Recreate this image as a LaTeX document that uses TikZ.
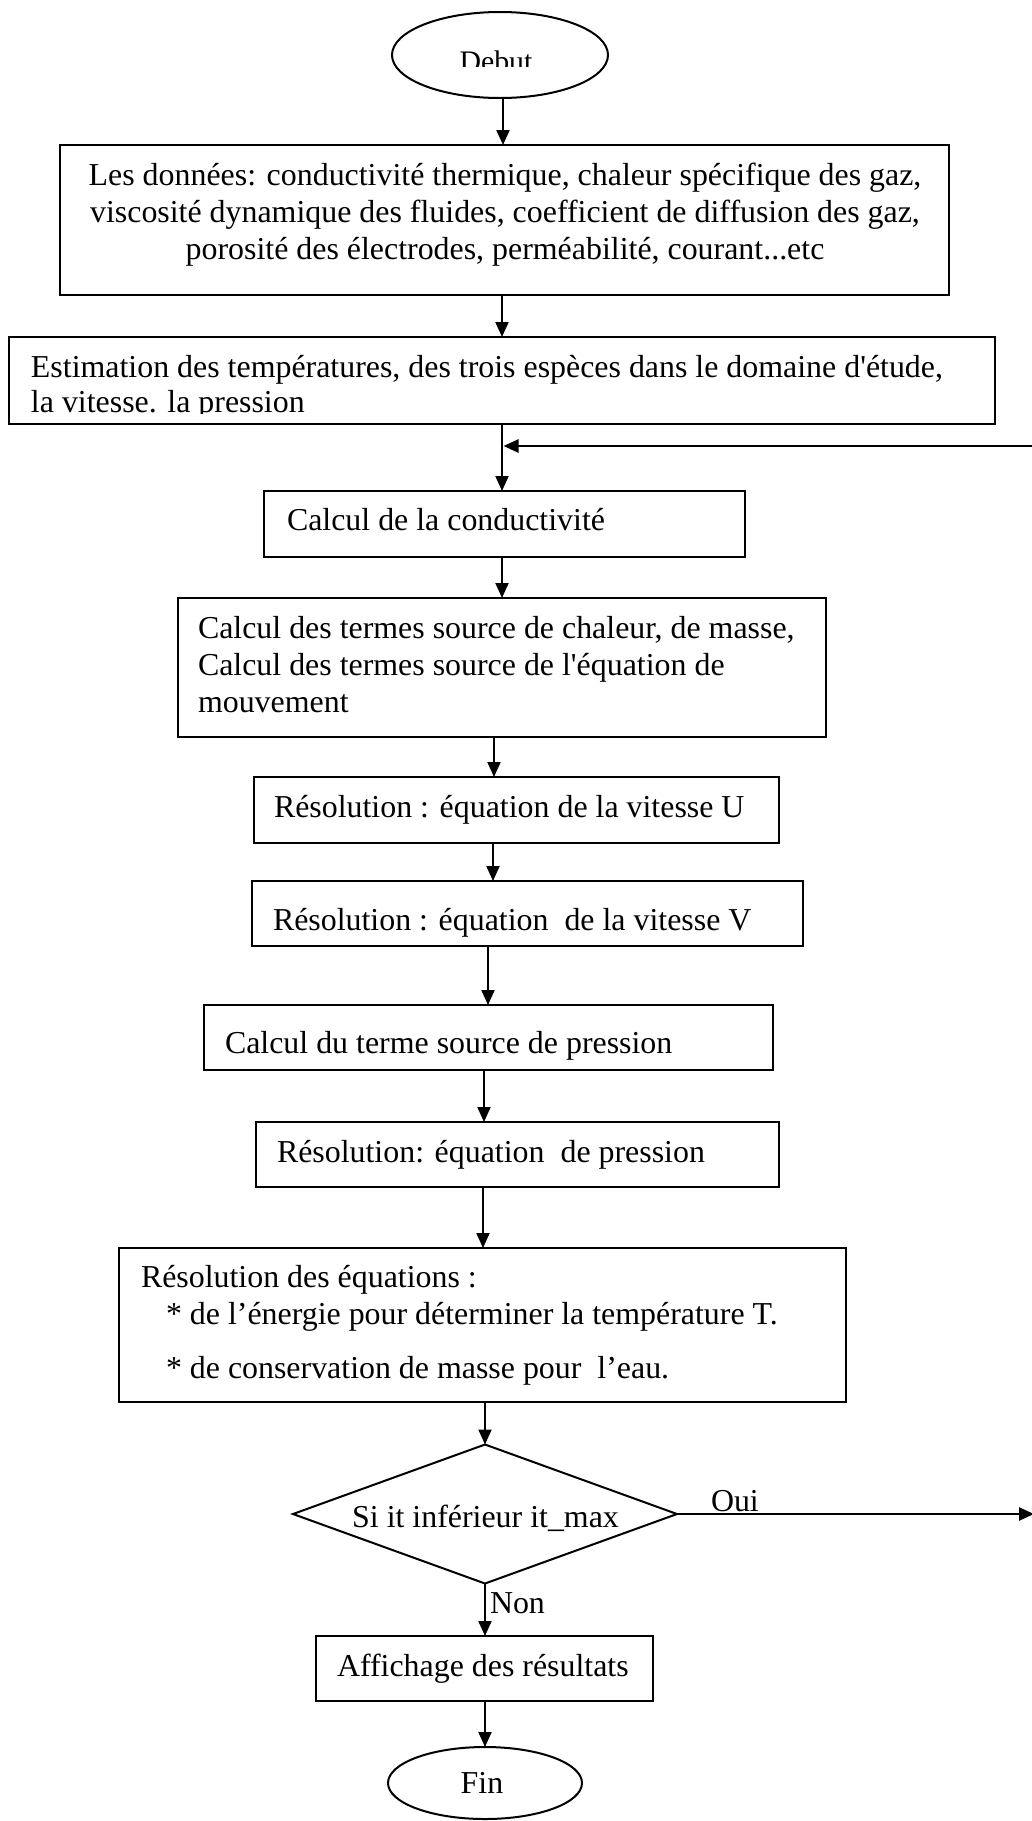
\documentclass[tikz,border=0pt]{standalone}
\usepackage{fontspec}
\setmainfont{Liberation Serif}[Ligatures=TeXOff]
\usetikzlibrary{arrows.meta,shapes.geometric}
\newcommand\flowfont{\fontsize{15.95pt}{18.5pt}\selectfont}

\begin{document}
\begin{tikzpicture}[x=0.5pt,y=-0.5pt, line width=1pt,
  box/.style={draw, rectangle, inner sep=0pt, outer sep=0pt, anchor=north west},
  term/.style={draw, ellipse, inner sep=0pt, outer sep=0pt},
  decision/.style={draw, diamond, inner sep=0pt, outer sep=0pt},
  txt/.style={inner sep=0pt, outer sep=0pt, anchor=base west, font=\flowfont},
  arr/.style={-{Triangle[length=7.5pt,width=6.5pt]}},
  looparr/.style={arr, line width=1.3pt}]

\useasboundingbox (0,0) rectangle (1032,1821);
\fill[white] (0,0) rectangle (1032,1821);

% start
\node[term, minimum width=108pt, minimum height=43pt] (debut) at (500,55) {};
\begin{scope}
  \clip (400,20) rectangle (600,66.5);
  \node[txt, anchor=base, font=\fontsize{14.9pt}{17pt}\selectfont] (debut-t) at (496,71) {Debut};
\end{scope}

% input data
\node[box, minimum width=444.5pt, minimum height=75pt] (donnees) at (60,145) {};
\node[txt, anchor=base] (donnees-t) at (505,185) {\begin{tabular}[t]{@{}c@{}}Les données: conductivité thermique, chaleur spécifique des gaz,\\ viscosité dynamique des fluides, coefficient de diffusion des gaz,\\ porosité des électrodes, perméabilité, courant...etc\end{tabular}};

% initial estimate
\node[box, minimum width=493pt, minimum height=43.5pt] (estim) at (9,337) {};
\begin{scope}
  \clip (9,340) rectangle (995,413);
  \node[txt] (estim-t) at (31,377) {\begin{tabular}[t]{@{}l@{}}Estimation des températures, des trois espèces dans le domaine d'étude,\\[-1pt] la vitesse. la pression\end{tabular}};
\end{scope}

% iteration steps
\node[box, minimum width=240.5pt, minimum height=33pt] (conduct) at (264,491) {};
\node[txt] (conduct-t) at (287,530) {Calcul de la conductivité};

\node[box, minimum width=324pt, minimum height=69.5pt] (termes) at (178,598) {};
\node[txt] (termes-t) at (198,638) {\begin{tabular}[t]{@{}l@{}}Calcul des termes source de chaleur, de masse,\\ Calcul des termes source de l'équation de\\ mouvement\end{tabular}};

\node[box, minimum width=262.5pt, minimum height=33pt] (vitU) at (254,777) {};
\node[txt] (vitU-t) at (274,817) {Résolution : équation de la vitesse U};

\node[box, minimum width=275.5pt, minimum height=32.5pt] (vitV) at (252,881) {};
\node[txt] (vitV-t) at (273,930) {Résolution : équation\ \ de la vitesse V};

\node[box, minimum width=284.5pt, minimum height=32.5pt] (srcP) at (204,1005) {};
\node[txt] (srcP-t) at (225,1053) {Calcul du terme source de pression};

\node[box, minimum width=261.5pt, minimum height=32.5pt] (resP) at (256,1122) {};
\node[txt] (resP-t) at (277,1162) {Résolution: équation\ \ de pression};

\node[box, minimum width=363.5pt, minimum height=77pt] (eqs) at (119,1248) {};
\node[txt] (eqs-t) at (141,1287) {\begin{tabular}[t]{@{}l@{}}Résolution des équations :\\ \hspace*{12.5pt}* de l’énergie pour déterminer la température T.\\[8.5pt] \hspace*{12.5pt}* de conservation de masse pour\ \ l’eau.\end{tabular}};

% convergence test
\node[decision, minimum width=192pt, minimum height=69.5pt] (test) at (485,1514) {};
\node[txt, anchor=base] (test-t) at (485.5,1527) {Si it inférieur it\_max};
\node[txt] (oui) at (711,1511) {Oui};
\node[txt] (non) at (490,1613) {Non};

% output and end
\node[box, minimum width=168.5pt, minimum height=32.5pt] (affich) at (316,1636) {};
\node[txt] (affich-t) at (337,1676) {Affichage des résultats};

\node[term, minimum width=97pt, minimum height=36pt] (fin) at (485,1783) {};
\node[txt, anchor=base] (fin-t) at (482,1793) {Fin};

% connectors
\draw[arr] (debut.south -| 503,0) -- (donnees.north -| 503,0);
\draw[arr] (donnees.south -| 502,0) -- (estim.north -| 502,0);
\draw[arr] (estim.south -| 502,0) -- (conduct.north -| 502,0);
\draw[arr] (conduct.south -| 502,0) -- (termes.north -| 502,0);
\draw[arr] (termes.south -| 494,0) -- (vitU.north -| 494,0);
\draw[arr] (vitU.south -| 493,0) -- (vitV.north -| 493,0);
\draw[arr] (vitV.south -| 488,0) -- (srcP.north -| 488,0);
\draw[arr] (srcP.south -| 484,0) -- (resP.north -| 484,0);
\draw[arr] (resP.south -| 483,0) -- (eqs.north -| 483,0);
\draw[arr] (eqs.south -| test.north) -- (test.north);
\draw[arr] (test.south) -- (affich.north -| test.south);
\draw[arr] (affich.south -| fin.north) -- (fin.north);

% loop back
\coordinate (join) at (503.5,446);
\coordinate (loopin) at (1033,446);
\draw[looparr] (loopin) -- (join);
\coordinate (ouiend) at (1034,1514);
\draw[looparr] (test.east) -- (ouiend);

\end{tikzpicture}
\end{document}
